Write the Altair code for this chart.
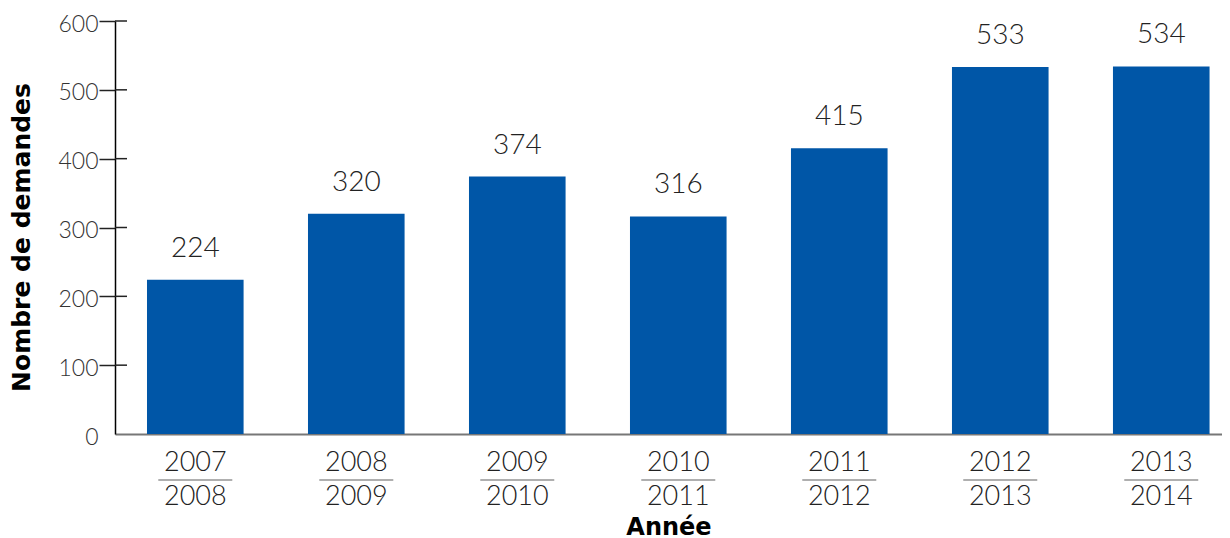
import altair as alt
import pandas as pd

periods = ["2007-2008", "2008-2009", "2009-2010", "2010-2011",
           "2011-2012", "2012-2013", "2013-2014"]
demandes = [224, 320, 374, 316, 415, 533, 534]
y_ticks = [0, 100, 200, 300, 400, 500, 600]

df = pd.DataFrame({"periode": periods, "demandes": demandes})
ticks_df = pd.DataFrame({"demandes": y_ticks[1:]})

LIGHT = "Lato"
BOLD = "DejaVu Sans"

x_scale = alt.Scale(domain=periods, paddingInner=0.4, paddingOuter=0.138, align=0.72)
y_scale = alt.Scale(domain=[0, 600], nice=False)

x_axis = alt.Axis(
    title="Année", labelExpr="split(datum.label, '-')", labelAngle=0,
    labelFont=LIGHT, labelFontSize=27, labelFontWeight=300, labelColor="#222",
    labelLineHeight=34, labelBaseline="top", labelPadding=15,
    ticks=False, tickSize=0, domainColor="#777", domainWidth=2,
    titleFont=BOLD, titleFontWeight="bold", titleFontSize=24, titleColor="black",
    titleY=100, titleBaseline="alphabetic")
y_axis = alt.Axis(
    values=y_ticks, title="Nombre de demandes", grid=False,
    tickSize=16, tickColor="#222", tickWidth=1.5,
    tickOpacity={"expr": "datum.value === 0 ? 0 : 1"},
    domainColor="black", domainWidth=1.5,
    labelFont=LIGHT, labelFontSize=23, labelFontWeight=300, labelColor="#333",
    labelPadding=1, labelOffset=3,
    titleFont=BOLD, titleFontWeight="bold", titleFontSize=25, titleColor="black",
    titleX=-86, titleY=216, titleBaseline="alphabetic", titleAlign="center")

bars = alt.Chart(df).mark_bar(color="#0056A7").encode(
    x=alt.X("periode:N", scale=x_scale, axis=x_axis),
    y=alt.Y("demandes:Q", scale=y_scale, axis=y_axis),
)

values = alt.Chart(df).mark_text(
    font=LIGHT, fontSize=28, fontWeight=300, color="#222", dy=-23, baseline="alphabetic"
).encode(
    x=alt.X("periode:N", scale=x_scale, axis=x_axis),
    y=alt.Y("demandes:Q", scale=y_scale, axis=y_axis),
    text="demandes:Q",
)

fraction = alt.Chart(df).mark_tick(
    orient="horizontal", size=74, thickness=1.5, color="#666"
).encode(
    x=alt.X("periode:N", scale=x_scale, axis=x_axis),
    y=alt.value(459),
)

inticks = alt.Chart(ticks_df).mark_rule(color="#222", strokeWidth=1.5).encode(
    y=alt.Y("demandes:Q", scale=y_scale, axis=y_axis),
    x=alt.value(0),
    x2=alt.value(12),
)

chart = alt.layer(bars, values, fraction, inticks).properties(
    width=1107, height=413,
    padding={"left": 107, "top": 13, "right": 0, "bottom": 104},
    autosize=alt.AutoSizeParams(type="none"),
).configure_view(stroke=None)

chart.save("out.html", embed_options={"renderer": "svg", "actions": False})
